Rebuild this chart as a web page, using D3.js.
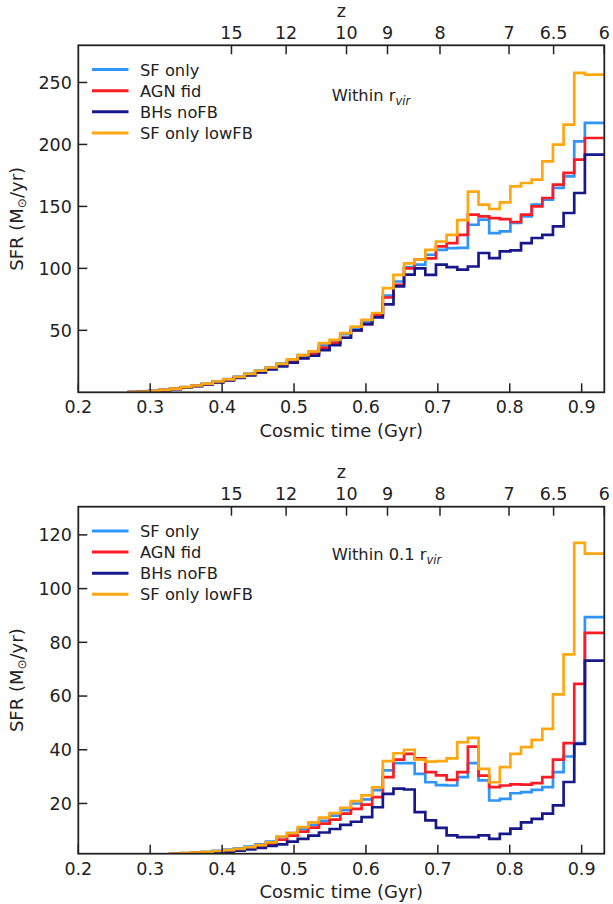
<!DOCTYPE html>
<html>
<head>
<meta charset="utf-8">
<script src="https://cdn.jsdelivr.net/npm/d3@7"></script>
<style>
  body { margin: 0; background: #fff; }
  text { font-family: "DejaVu Sans", sans-serif; fill: #222; }
</style>
</head>
<body>
<svg id="chart" width="613" height="904"></svg>
<script>
// bin edges in cosmic time (Gyr), 45 bins
const binEdges = [
  0.2685, 0.2833, 0.2981, 0.3129, 0.3277, 0.3425, 0.3572, 0.3720, 0.3868, 0.4016,
  0.4164, 0.4312, 0.4460, 0.4608, 0.4756, 0.4904, 0.5051, 0.5199, 0.5347, 0.5495,
  0.5643, 0.5791, 0.5939, 0.6087, 0.6235, 0.6383, 0.6530, 0.6678, 0.6826, 0.6974,
  0.7122, 0.7270, 0.7418, 0.7566, 0.7714, 0.7862, 0.8009, 0.8157, 0.8305, 0.8453,
  0.8601, 0.8749, 0.8897, 0.9045, 0.9193, 0.9341
];

const seriesNames = ["SF only", "AGN fid", "BHs noFB", "SF only lowFB"];
const seriesColors = ["#2f95fb", "#fb1c24", "#17188a", "#ffa70f"];

// SFR within r_vir (Msun/yr)
const virSFonly = [
  0.1, 0.4, 1.0, 1.9, 3.0, 4.2, 5.6, 7.1, 8.8, 10.7, 12.7, 15, 17.5, 20.2, 23.2, 26.5, 30,
  32, 38, 41, 47, 52, 57, 63, 78, 89.4, 101, 103, 111, 115, 116.4, 116.6, 135.2, 139.3,
  128.5, 129.8, 136.6, 142, 151.4, 155.4, 164.9, 174.3, 202.5, 217.4, 217.4
];
const virAGNfid = [
  0.1, 0.3, 0.9, 1.7, 2.7, 3.8, 5.1, 6.5, 8.2, 9.9, 11.8, 14, 16.3, 18.8, 21.5, 24.5, 27.8,
  31, 36, 40, 44, 50, 55, 62, 76.5, 86.8, 100, 107, 108, 117.7, 120.4, 127, 143.3, 142,
  140.6, 139.8, 137.4, 143.3, 150, 156.8, 167.5, 177, 187.7, 205.2, 205.2
];
const virBHsNoFB = [
  0.1, 0.3, 0.9, 1.7, 2.6, 3.7, 5.0, 6.4, 8.0, 9.7, 11.6, 13.7, 16, 18.4, 21, 24, 27.3,
  29.5, 34, 38, 44, 50, 55, 60.5, 71, 85.4, 95, 100, 94.8, 103, 101, 99, 101.5, 112.4,
  108.3, 113.7, 114.5, 120.4, 124.5, 127.1, 133.9, 144.7, 160.8, 191.8, 191.8
];
const virLowFB = [
  0.1, 0.4, 1.0, 1.9, 3.0, 4.2, 5.5, 7.0, 8.7, 10.5, 12.5, 14.8, 17.4, 20, 23, 26.5, 30,
  33, 39.6, 42.3, 47.7, 53, 58.5, 64, 84, 94.8, 104, 107, 115, 121.7, 127, 139, 162, 151.4,
  147.9, 153.3, 166.2, 168.9, 171.6, 186.4, 199.9, 216, 257.8, 256.4, 256.4
];

// SFR within 0.1 r_vir (Msun/yr)
const coreSFonly = [
  0, 0, 0, 0.8, 1.3, 1.5, 1.7, 2.0, 2.4, 2.8, 3.3, 3.9, 4.8, 5.8, 7.5, 9, 10.5,
  12, 13.5, 15.5, 17.5, 20, 21.5, 25, 32.3, 35, 35, 31, 27.9, 26.8, 26.7, 29.8, 35, 28.6,
  21.1, 21.7, 23.8, 24.2, 25.1, 26.1, 31.7, 37.5, 42.5, 89.4, 89.4
];
const coreAGNfid = [
  0, 0, 0, 0.7, 1.2, 1.4, 1.6, 1.8, 2.1, 2.4, 2.8, 3.3, 4.0, 5, 6.5, 8, 9.5,
  11, 12.5, 14, 16.2, 18, 19.6, 22.4, 29.8, 36.3, 38.5, 36.8, 31.7, 30.5, 28.8, 31.7, 41.2, 30.4,
  26.1, 26.7, 27.1, 27, 27.6, 29.8, 36.3, 42.5, 64.5, 83.5, 83.5
];
const coreBHsNoFB = [
  0, 0, 0, 0.6, 1.1, 1.3, 1.4, 1.6, 1.8, 2.0, 2.4, 2.9, 3.5, 4.2, 4.8, 5.8, 6.8,
  8, 9.2, 10.5, 12, 13.2, 14.9, 18.6, 23.6, 25.5, 25.2, 16.8, 13.7, 10.9, 8.1, 7.5, 7.5, 8.1,
  6.8, 8.7, 10.6, 13, 14.3, 16.2, 19.3, 28, 42.2, 73.2, 73.2
];
const coreLowFB = [
  0, 0, 0, 0.8, 1.3, 1.5, 1.7, 2.0, 2.3, 2.6, 3.1, 3.7, 4.5, 5.5, 7.7, 9, 11.2,
  13, 14.7, 16.4, 18.4, 20.9, 23, 26, 35.8, 38.7, 40, 36.3, 35.6, 35.8, 36.8, 42.8, 44.4, 32.9,
  27.9, 33.5, 38.5, 41, 43.7, 47.8, 60.6, 75.5, 117, 113, 113
];

// axis ticks
const timeTicks = [0.2, 0.3, 0.4, 0.5, 0.6, 0.7, 0.8, 0.9];
const zTickLabels = ["15", "12", "10", "9", "8", "7", "6.5", "6"];
const zTickTimes = [0.413, 0.489, 0.573, 0.630, 0.703, 0.799, 0.861, 0.9315];
const virYTicks = [50, 100, 150, 200, 250];
const coreYTicks = [20, 40, 60, 80, 100, 120];

const svg = d3.select("#chart");
const left = 78.3, right = 604.3, panelH = 347;
const TICK = 9;

const x = d3.scaleLinear().domain([0.2, 0.9315]).range([left, right]);

const panels = [
  { id: "vir", top: 45.3, yDomain: [0, 280], yTicks: virYTicks,
    series: [virSFonly, virAGNfid, virBHsNoFB, virLowFB], note: "Within ", noteY: 55.5 },
  { id: "core", top: 506.7, yDomain: [1.3, 130.5], yTicks: coreYTicks,
    series: [coreSFonly, coreAGNfid, coreBHsNoFB, coreLowFB], note: "Within 0.1 ", noteY: 53.5 }
];

function drawPanel(p) {
  const top = p.top, bottom = p.top + panelH;
  const y = d3.scaleLinear().domain(p.yDomain).range([bottom, top]);
  const g = svg.append("g");

  g.append("clipPath").attr("id", "clip-" + p.id)
    .append("rect").attr("x", left).attr("y", top)
    .attr("width", right - left).attr("height", bottom - top);

  // step histograms
  const line = d3.line()
    .x(d => x(d[0]))
    .y(d => y(d[1]))
    .curve(d3.curveStepAfter);

  p.series.forEach((vals, i) => {
    const pts = vals.map((v, k) => [binEdges[k], v]);
    pts.push([binEdges[vals.length], vals[vals.length - 1]]);
    g.append("path")
      .attr("clip-path", `url(#clip-${p.id})`)
      .attr("d", line(pts))
      .attr("fill", "none")
      .attr("stroke", seriesColors[i])
      .attr("stroke-width", 2.7)
      .attr("stroke-linejoin", "miter");
  });

  // bottom ticks (inward) + labels
  g.selectAll(".xt").data(timeTicks).enter().append("line")
    .attr("x1", d => x(d)).attr("x2", d => x(d))
    .attr("y1", bottom).attr("y2", bottom - TICK)
    .attr("stroke", "#222").attr("stroke-width", 1.5);
  g.selectAll(".xl").data(timeTicks).enter().append("text")
    .attr("x", d => x(d)).attr("y", bottom + 21)
    .attr("text-anchor", "middle").attr("font-size", 17.5)
    .text(d => d.toFixed(1));

  // top redshift ticks
  g.selectAll(".zt").data(zTickTimes).enter().append("line")
    .attr("x1", d => x(d)).attr("x2", d => x(d))
    .attr("y1", top).attr("y2", top + TICK)
    .attr("stroke", "#222").attr("stroke-width", 1.5);
  g.selectAll(".zl").data(zTickTimes).enter().append("text")
    .attr("x", d => x(d)).attr("y", top - 6.5)
    .attr("text-anchor", "middle").attr("font-size", 17.5)
    .text((d, i) => zTickLabels[i]);
  g.append("text").attr("x", (left + right) / 2).attr("y", top - 28.5)
    .attr("text-anchor", "middle").attr("font-size", 17.5).text("z");

  // left ticks
  g.selectAll(".yt").data(p.yTicks).enter().append("line")
    .attr("x1", left).attr("x2", left + TICK)
    .attr("y1", d => y(d)).attr("y2", d => y(d))
    .attr("stroke", "#222").attr("stroke-width", 1.5);
  g.selectAll(".yl").data(p.yTicks).enter().append("text")
    .attr("x", left - 6.5).attr("y", d => y(d) + 6.3)
    .attr("text-anchor", "end").attr("font-size", 17.5)
    .text(d => d);

  // frame
  g.append("rect").attr("x", left).attr("y", top)
    .attr("width", right - left).attr("height", bottom - top)
    .attr("fill", "none").attr("stroke", "#222").attr("stroke-width", 1.8);

  // axis labels
  g.append("text").attr("x", (left + right) / 2).attr("y", bottom + 44.5)
    .attr("text-anchor", "middle").attr("font-size", 18)
    .text("Cosmic time (Gyr)");
  const yl = g.append("text")
    .attr("transform", `translate(23,${(top + bottom) / 2}) rotate(-90)`)
    .attr("text-anchor", "middle").attr("font-size", 18);
  yl.append("tspan").text("SFR (M");
  yl.append("tspan").attr("font-size", 12).attr("dy", 3).text("\u2299");
  yl.append("tspan").attr("dy", -3).text("/yr)");

  // legend
  seriesNames.forEach((name, i) => {
    const ly = top + 24.3 + i * 21.1;
    g.append("line").attr("x1", 92).attr("x2", 128.5)
      .attr("y1", ly).attr("y2", ly)
      .attr("stroke", seriesColors[i]).attr("stroke-width", 3);
    g.append("text").attr("x", 140).attr("y", ly + 6)
      .attr("font-size", 16.3).text(name);
  });

  // annotation
  const note = g.append("text").attr("x", 331.7).attr("y", top + p.noteY)
    .attr("font-size", 16.3);
  note.append("tspan").text(p.note + "r");
  note.append("tspan").attr("font-size", 11.5).attr("font-style", "italic")
    .attr("dy", 4).text("vir");
}

panels.forEach(drawPanel);
</script>
</body>
</html>
